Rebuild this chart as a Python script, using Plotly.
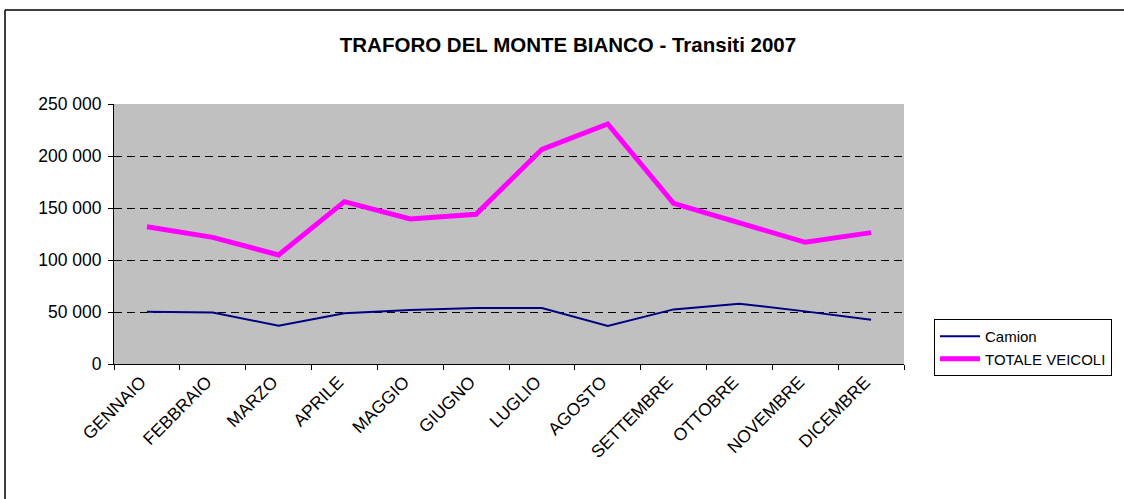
import plotly.graph_objects as go

months = ["GENNAIO", "FEBBRAIO", "MARZO", "APRILE", "MAGGIO", "GIUGNO",
          "LUGLIO", "AGOSTO", "SETTEMBRE", "OTTOBRE", "NOVEMBRE", "DICEMBRE"]
camion = [50300, 49400, 36900, 48700, 51900, 53800,
          53800, 36500, 52500, 58000, 50600, 42600]
totale = [132000, 121800, 104800, 156100, 139400, 143900,
          206400, 230800, 154500, 136200, 117000, 126300]
y_ticks = [0, 50000, 100000, 150000, 200000, 250000]
y_labels = ["0", "50 000", "100 000", "150 000", "200 000", "250 000"]
title_text = "TRAFORO DEL MONTE BIANCO - Transiti 2007"

FONT = "Liberation Sans, Arial, sans-serif"

L, R, T, B = 114, 904, 104, 364
W, H = 1124, 499
PW, PH = R - L, B - T


def px(x):
    return (x - L) / PW


def py(y):
    return (B - y) / PH


fig = go.Figure()
fig.add_trace(go.Scatter(x=months, y=camion, mode="lines", name="Camion",
                         line=dict(color="#000080", width=2)))
fig.add_trace(go.Scatter(x=months, y=totale, mode="lines", name="TOTALE VEICOLI",
                         line=dict(color="#FF00FF", width=5)))

fig.update_layout(
    width=W, height=H,
    margin=dict(l=L, r=W - R, t=T, b=H - B, autoexpand=False),
    paper_bgcolor="white",
    plot_bgcolor="#C0C0C0",
    font=dict(family=FONT, size=15, color="black"),
    title=dict(text="<b>" + title_text + "</b>", x=568 / W, xanchor="center",
               y=1 - 45 / H, yanchor="middle",
               font=dict(family=FONT, size=20.5, color="black")),
    showlegend=True,
    legend=dict(x=px(934), y=py(319), xanchor="left", yanchor="top",
                bordercolor="black", borderwidth=1, bgcolor="white",
                font=dict(family=FONT, size=15), tracegroupgap=0,
                itemwidth=40),
    xaxis=dict(
        type="category", range=[-0.5, 11.5], tickangle=-45, ticks="outside", ticklen=5,
        tickson="boundaries", tickcolor="black", showline=True, linecolor="black",
        linewidth=1, showgrid=False, zeroline=False,
        tickfont=dict(family=FONT, size=17.5), ticklabelshift=-6,
    ),
    yaxis=dict(
        range=[0, 250000], tickvals=y_ticks, ticktext=y_labels,
        ticks="outside", ticklen=5, tickcolor="black",
        showline=True, linecolor="black", linewidth=1,
        showgrid=True, gridcolor="black", griddash="8px,5px", gridwidth=1,
        zeroline=False, tickfont=dict(family=FONT, size=17.5),
        ticklabelstandoff=3,
    ),
    shapes=[
        dict(type="line", xref="paper", yref="paper",
             x0=px(5), x1=px(5), y0=py(10), y1=py(520),
             line=dict(color="black", width=1.5), layer="above"),
        dict(type="line", xref="paper", yref="paper",
             x0=px(5), x1=px(1140), y0=py(10), y1=py(10),
             line=dict(color="black", width=1.5), layer="above"),
    ],
)

fig.write_html(
    "out.html",
    config={"displayModeBar": False},
    post_script="document.body.style.margin='0';document.body.style.overflow='hidden';",
)
